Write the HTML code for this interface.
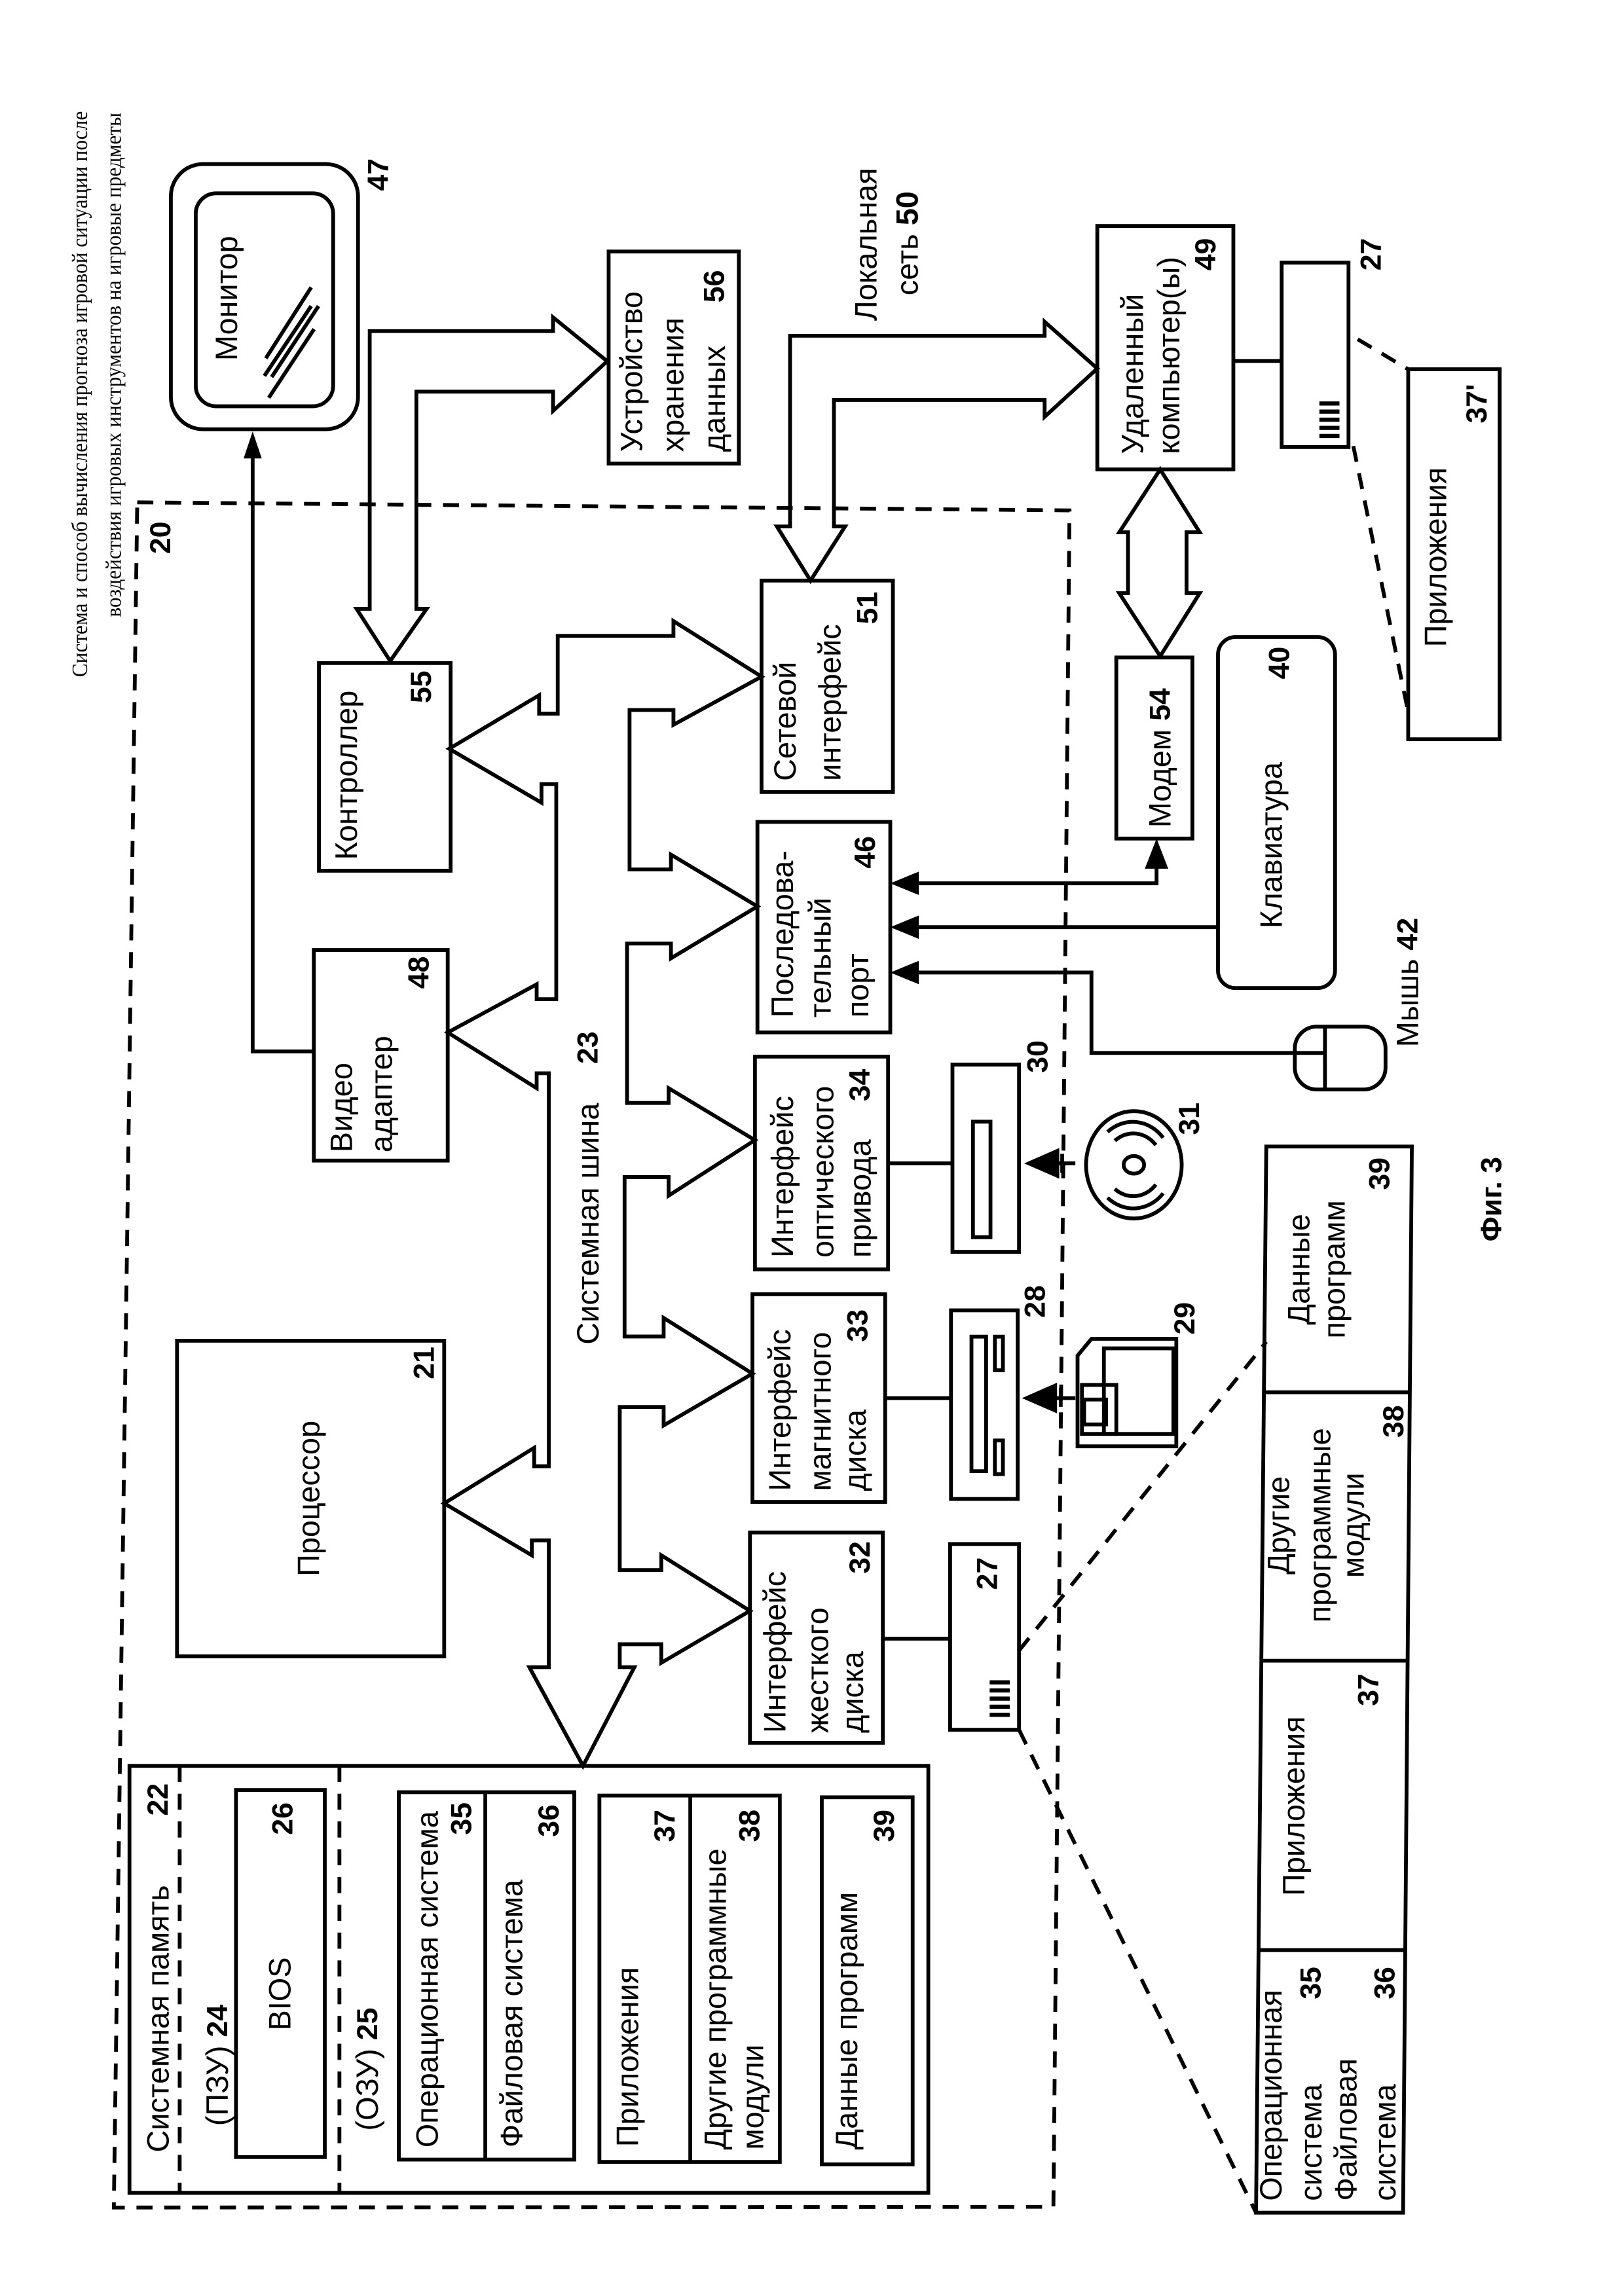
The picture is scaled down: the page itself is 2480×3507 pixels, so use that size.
<!DOCTYPE html>
<html><head><meta charset="utf-8"><style>
html,body{margin:0;padding:0;background:#fff}
svg{display:block}
.t{font-family:"Liberation Sans",sans-serif;font-size:21px;fill:#000}
.b{font-family:"Liberation Sans",sans-serif;font-size:20px;font-weight:bold;fill:#000}
.h{font-family:"Liberation Serif",serif;font-size:15px;fill:#000}
.s{fill:none;stroke:#000;stroke-width:2.6}
.d{fill:none;stroke:#000;stroke-width:2.6;stroke-dasharray:11 8}
.f{fill:#000}
</style></head><body>
<svg width="2480" height="3507" viewBox="0 0 1110 1570" preserveAspectRatio="none" xmlns="http://www.w3.org/2000/svg">
<g dominant-baseline="central">
<text class="h" transform="translate(54.9,463) rotate(-90)" textLength="387" lengthAdjust="spacingAndGlyphs">Система и способ вычисления прогноза игровой ситуации после</text>
<text class="h" transform="translate(77.8,422) rotate(-90)" textLength="345" lengthAdjust="spacingAndGlyphs">воздействия игровых инструментов на игровые предметы</text>

<polygon class="d" points="93.8,343.5 731,349 720,1509 77.8,1509.5"/>
<text class="b" transform="translate(109.8,367.7) rotate(-90)" text-anchor="middle">20</text>

<rect class="s" x="116.8" y="112.2" width="127.9" height="181.3" rx="22"/>
<rect class="s" x="133.8" y="132.2" width="93.9" height="145.6" rx="14"/>
<text class="t" transform="translate(154.8,204) rotate(-90)" text-anchor="middle" font-size="22">Монитор</text>
<line class="s" x1="212.7" y1="196.5" x2="181.7" y2="245"/>
<line class="s" x1="212.7" y1="209.3" x2="180.7" y2="257"/>
<line class="s" x1="217.7" y1="209.3" x2="185.7" y2="257.8"/>
<line class="s" x1="214.7" y1="225" x2="183.7" y2="272"/>
<text class="b" transform="translate(258.7,119.4) rotate(-90)" text-anchor="middle">47</text>
<polyline class="s" points="214.5,719 172.7,719 172.7,310"/>
<polygon class="f" points="172.7,295 166.5,313.5 178.9,313.5"/>

<rect class="s" x="416" y="172" width="89" height="145"/>
<text class="t" transform="translate(431.8,309) rotate(-90)">Устройство</text>
<text class="t" transform="translate(460,309) rotate(-90)">хранения</text>
<text class="t" transform="translate(488.3,309) rotate(-90)">данных</text>
<text class="b" transform="translate(488.3,195.8) rotate(-90)" text-anchor="middle">56</text>
<polygon class="s" points="266.7,452 291.6,416.3 284.6,416.3 284.6,267.8 378,267.8 378,281 415,247 378,217 378,226.4 252.7,226.4 252.7,416.3 243.7,416.3"/>

<text class="t" transform="translate(592,219.4) rotate(-90)">Локальная</text>
<text class="t" transform="translate(620.2,202) rotate(-90)">сеть <tspan font-weight="bold">50</tspan></text>
<polygon class="s" points="554,397 577.6,360 570,360 570,273.5 714,273.5 714,285 750,252 714,220 714,229.6 540,229.6 540,360 531,360"/>

<rect class="s" x="750" y="154.5" width="93" height="166.5"/>
<text class="t" transform="translate(774,310.5) rotate(-90)">Удаленный</text>
<text class="t" transform="translate(799,310.5) rotate(-90)">компьютер(ы)</text>
<text class="b" transform="translate(824.3,173.9) rotate(-90)" text-anchor="middle">49</text>
<polygon class="s" points="793,321 820,364 811,364 811,405.6 820,405.6 793,448.7 765,405.6 771,405.6 771,364 765,364"/>
<line class="s" x1="843" y1="246.8" x2="876" y2="246.8"/>
<rect class="s" x="876" y="179.6" width="45.7" height="126.1"/>
<text class="b" transform="translate(937.3,173.9) rotate(-90)" text-anchor="middle">27</text>
<text class="b" transform="translate(909,287) rotate(-90)" text-anchor="middle" font-size="15">IIIII</text>
<line class="d" x1="928" y1="232" x2="962.5" y2="252.5"/>
<line class="d" x1="925" y1="305" x2="962.5" y2="487"/>
<rect class="s" x="962.5" y="252.5" width="62.5" height="253"/>
<text class="t" transform="translate(981.3,381) rotate(-90)" text-anchor="middle">Приложения</text>
<text class="b" transform="translate(1009.5,276) rotate(-90)" text-anchor="middle">37'</text>

<rect class="s" x="218" y="453.4" width="90" height="142"/>
<text class="t" transform="translate(236.8,588) rotate(-90)">Контроллер</text>
<text class="b" transform="translate(288,469.7) rotate(-90)" text-anchor="middle">55</text>

<rect class="s" x="214.5" y="649.6" width="91.5" height="144"/>
<text class="t" transform="translate(233.4,788) rotate(-90)">Видео</text>
<text class="t" transform="translate(260.8,788) rotate(-90)">адаптер</text>
<text class="b" transform="translate(286.5,665) rotate(-90)" text-anchor="middle">48</text>

<rect class="s" x="121" y="916.8" width="182.6" height="215.8"/>
<text class="t" transform="translate(211.1,1024.7) rotate(-90)" text-anchor="middle" font-size="22">Процессор</text>
<text class="b" transform="translate(290,932) rotate(-90)" text-anchor="middle">21</text>

<polygon class="s" points="307,512 368.5,475.4 368.5,488 381.2,488 381.2,434.8 460.3,434.8 460.3,424.7 520.5,462.7 460.3,495.6 460.3,485.5 430.3,485.5 430.3,594.5 458.6,594.5 458.6,584.4 517.7,619.8 458.6,655.3 458.6,645.2 428.6,645.2 428.6,754.2 457,754.2 457,744.1 516,779.6 457,817.6 457,804.9 426.9,804.9 426.9,913.9 453.6,913.9 453.6,901.2 514.3,939.3 453.6,974.7 453.6,962.1 423.6,962.1 423.6,1073.6 452,1073.6 452,1063.5 512.6,1101.5 452,1137 452,1124.3 423.6,1124.3 423.6,1140 433.6,1140 398.5,1207.5 361.8,1140 375.1,1140 375.1,1053.3 363.5,1053.3 363.5,1063.5 303.6,1028 365.1,990 365.1,1002.6 375.1,1002.6 375.1,733.9 366.8,733.9 366.8,744.1 306,706 366.8,673.1 366.8,683.2 380.2,683.2 380.2,536.2 370.1,536.2 370.1,548.9"/>
<text class="t" transform="translate(402,919.4) rotate(-90)">Системная шина</text>
<text class="b" transform="translate(402,716.4) rotate(-90)" text-anchor="middle">23</text>

<rect class="s" x="520.5" y="397" width="89.8" height="144.6"/>
<text class="t" transform="translate(536.6,534) rotate(-90)">Сетевой</text>
<text class="t" transform="translate(567.4,534) rotate(-90)">интерфейс</text>
<text class="b" transform="translate(593,415.7) rotate(-90)" text-anchor="middle">51</text>

<rect class="s" x="517.7" y="562" width="90.8" height="144"/>
<text class="t" transform="translate(534.9,695.8) rotate(-90)">Последова-</text>
<text class="t" transform="translate(560.6,695.8) rotate(-90)">тельный</text>
<text class="t" transform="translate(586.3,695.8) rotate(-90)">порт</text>
<text class="b" transform="translate(591.4,582.8) rotate(-90)" text-anchor="middle">46</text>
<polyline class="s" points="628,604 790.5,604 790.5,593"/>
<polygon class="f" points="608.5,604 628,596 628,612"/>
<polygon class="f" points="790.5,573.4 782.5,594 798.5,594"/>
<line class="s" x1="628" y1="634" x2="832.5" y2="634"/>
<polygon class="f" points="608.5,634 628,626 628,642"/>
<polyline class="s" points="628,665 746,665 746,720 885,720"/>
<polygon class="f" points="608.5,665 628,657 628,673"/>

<rect class="s" x="763" y="449.6" width="52" height="123.8"/>
<text class="t" transform="translate(792.9,566) rotate(-90)">Модем <tspan font-weight="bold" font-size="20">54</tspan></text>

<rect class="s" x="832.5" y="435.6" width="80" height="240" rx="12"/>
<text class="t" transform="translate(869,578) rotate(-90)" text-anchor="middle">Клавиатура</text>
<text class="b" transform="translate(874.5,453.3) rotate(-90)" text-anchor="middle">40</text>

<rect class="s" x="885" y="702" width="62" height="43" rx="15"/>
<line class="s" x1="905.6" y1="702" x2="905.6" y2="745"/>
<line class="s" x1="885" y1="720" x2="905.6" y2="720"/>
<text class="t" transform="translate(962,716) rotate(-90)">Мышь <tspan font-weight="bold" font-size="20">42</tspan></text>

<rect class="s" x="516" y="722.5" width="91" height="145.5"/>
<text class="t" transform="translate(534.9,860) rotate(-90)">Интерфейс</text>
<text class="t" transform="translate(562.3,860) rotate(-90)">оптического</text>
<text class="t" transform="translate(588,860) rotate(-90)">привода</text>
<text class="b" transform="translate(588,742) rotate(-90)" text-anchor="middle">34</text>
<line class="s" x1="607" y1="795.5" x2="651" y2="795.5"/>
<rect class="s" x="651" y="728" width="45.5" height="128"/>
<rect class="s" x="665" y="767" width="12" height="79"/>
<text class="b" transform="translate(709.5,722.5) rotate(-90)" text-anchor="middle">30</text>
<line class="s" x1="715" y1="795.5" x2="735" y2="795.5"/>
<polygon class="f" points="700,795.5 724,785 724,806"/>
<line class="s" x1="726" y1="789" x2="726" y2="802"/>
<ellipse class="s" cx="775" cy="796.5" rx="32.7" ry="36.7"/>
<ellipse class="s" cx="775" cy="796.5" rx="7" ry="6" stroke-width="3"/>
<path class="s" d="M762,780 A20,22 0 0 1 790,783"/>
<path class="s" d="M757,774 A27,30 0 0 1 795,778"/>
<path class="s" d="M790,810 A20,22 0 0 1 762,813"/>
<path class="s" d="M795,816 A27,30 0 0 1 757,819"/>
<text class="b" transform="translate(813,765) rotate(-90)" text-anchor="middle">31</text>

<rect class="s" x="514.3" y="885" width="90.7" height="142"/>
<text class="t" transform="translate(533,1019.6) rotate(-90)">Интерфейс</text>
<text class="t" transform="translate(560.6,1019.6) rotate(-90)">магнитного</text>
<text class="t" transform="translate(584.6,1019.6) rotate(-90)">диска</text>
<text class="b" transform="translate(586.3,906.5) rotate(-90)" text-anchor="middle">33</text>
<line class="s" x1="605" y1="956" x2="650" y2="956"/>
<rect class="s" x="650" y="896" width="45.6" height="129"/>
<rect class="s" x="664" y="914" width="10" height="92"/>
<rect class="s" x="680" y="914" width="5.5" height="23"/>
<rect class="s" x="680" y="985" width="5.5" height="23"/>
<text class="b" transform="translate(707.7,890) rotate(-90)" text-anchor="middle">28</text>
<line class="s" x1="715" y1="956" x2="735" y2="956"/>
<polygon class="f" points="698.5,956 722.5,945.5 722.5,966.5"/>
<line class="s" x1="725" y1="949" x2="725" y2="962"/>
<polygon class="s" points="746,915.5 804,915.5 804,989 736.5,989 736.5,927"/>
<rect class="s" x="754.5" y="922" width="47.5" height="58.5"/>
<rect class="s" x="739.5" y="947" width="23.5" height="33.5"/>
<rect class="s" x="741" y="957" width="15" height="17"/>
<text class="b" transform="translate(810,901.5) rotate(-90)" text-anchor="middle">29</text>

<rect class="s" x="512.6" y="1047.9" width="90.8" height="143.8"/>
<text class="t" transform="translate(529.7,1185) rotate(-90)">Интерфейс</text>
<text class="t" transform="translate(558.9,1185) rotate(-90)">жесткого</text>
<text class="t" transform="translate(582.8,1185) rotate(-90)">диска</text>
<text class="b" transform="translate(588,1065) rotate(-90)" text-anchor="middle">32</text>
<line class="s" x1="603.4" y1="1120.5" x2="649.4" y2="1120.5"/>
<rect class="s" x="649.4" y="1055.8" width="47.1" height="127"/>
<text class="b" transform="translate(675,1076) rotate(-90)" text-anchor="middle">27</text>
<text class="b" transform="translate(683.7,1161.5) rotate(-90)" text-anchor="middle" font-size="15">IIIII</text>
<line class="d" x1="696.5" y1="1128.7" x2="865.5" y2="917.5"/>
<line class="d" x1="696.5" y1="1182.8" x2="858.5" y2="1513"/>

<rect class="s" x="88.5" y="1207.5" width="546" height="292"/>
<line class="d" x1="122.8" y1="1207.5" x2="122.8" y2="1499.5"/>
<line class="d" x1="232" y1="1207.5" x2="232" y2="1499.5"/>
<text class="t" transform="translate(108,1471.8) rotate(-90)">Системная память</text>
<text class="b" transform="translate(108,1230.5) rotate(-90)" text-anchor="middle">22</text>
<text class="t" transform="translate(148.5,1453.7) rotate(-90)">(ПЗУ) <tspan font-weight="bold" font-size="20">24</tspan></text>
<rect class="s" x="161.3" y="1224" width="60.7" height="251"/>
<text class="t" transform="translate(191.3,1363.4) rotate(-90)" text-anchor="middle">BIOS</text>
<text class="b" transform="translate(193.4,1243.6) rotate(-90)" text-anchor="middle">26</text>
<text class="t" transform="translate(251.2,1457) rotate(-90)">(ОЗУ) <tspan font-weight="bold" font-size="20">25</tspan></text>
<rect class="s" x="272.6" y="1225.5" width="119.9" height="251.2"/>
<line class="s" x1="331.7" y1="1225.5" x2="331.7" y2="1476.7"/>
<text class="t" transform="translate(292,1468.5) rotate(-90)">Операционная система</text>
<text class="b" transform="translate(315.5,1243.6) rotate(-90)" text-anchor="middle">35</text>
<text class="t" transform="translate(349.7,1468.5) rotate(-90)">Файловая система</text>
<text class="b" transform="translate(375.4,1245) rotate(-90)" text-anchor="middle">36</text>
<rect class="s" x="409.7" y="1227.8" width="123.3" height="250.5"/>
<line class="s" x1="471.8" y1="1227.8" x2="471.8" y2="1478.3"/>
<text class="t" transform="translate(429,1468) rotate(-90)">Приложения</text>
<text class="b" transform="translate(454.6,1248.5) rotate(-90)" text-anchor="middle">37</text>
<text class="t" transform="translate(489,1470) rotate(-90)">Другие программные</text>
<text class="t" transform="translate(514.6,1470) rotate(-90)">модули</text>
<text class="b" transform="translate(512.4,1248.5) rotate(-90)" text-anchor="middle">38</text>
<rect class="s" x="561.7" y="1229" width="62.1" height="251"/>
<text class="t" transform="translate(578.8,1470) rotate(-90)">Данные программ</text>
<text class="b" transform="translate(604.5,1248.5) rotate(-90)" text-anchor="middle">39</text>

<polygon class="s" points="865.5,784 965,784 959,1513 858.5,1513"/>
<line class="s" x1="865" y1="952" x2="964" y2="952"/>
<line class="s" x1="863" y1="1135.6" x2="962" y2="1135.6"/>
<line class="s" x1="861" y1="1333.5" x2="960" y2="1333.5"/>
<text class="t" transform="translate(887.7,868) rotate(-90)" text-anchor="middle">Данные</text>
<text class="t" transform="translate(912,868) rotate(-90)" text-anchor="middle">программ</text>
<text class="b" transform="translate(943,802.6) rotate(-90)" text-anchor="middle">39</text>
<text class="t" transform="translate(874,1043) rotate(-90)" text-anchor="middle">Другие</text>
<text class="t" transform="translate(902,1043) rotate(-90)" text-anchor="middle">программные</text>
<text class="t" transform="translate(925,1043) rotate(-90)" text-anchor="middle">модули</text>
<text class="b" transform="translate(952.6,972) rotate(-90)" text-anchor="middle">38</text>
<text class="t" transform="translate(884.4,1235) rotate(-90)" text-anchor="middle">Приложения</text>
<text class="b" transform="translate(935.5,1155.5) rotate(-90)" text-anchor="middle">37</text>
<text class="t" transform="translate(868.7,1505) rotate(-90)">Операционная</text>
<text class="t" transform="translate(896,1505) rotate(-90)">система</text>
<text class="t" transform="translate(920,1505) rotate(-90)">Файловая</text>
<text class="t" transform="translate(946.7,1505) rotate(-90)">система</text>
<text class="b" transform="translate(896,1356) rotate(-90)" text-anchor="middle">35</text>
<text class="b" transform="translate(946.7,1356) rotate(-90)" text-anchor="middle">36</text>

<text class="b" transform="translate(1019.5,820) rotate(-90)" text-anchor="middle" font-size="31">Фиг. 3</text>
</g>
</svg>
</body></html>
